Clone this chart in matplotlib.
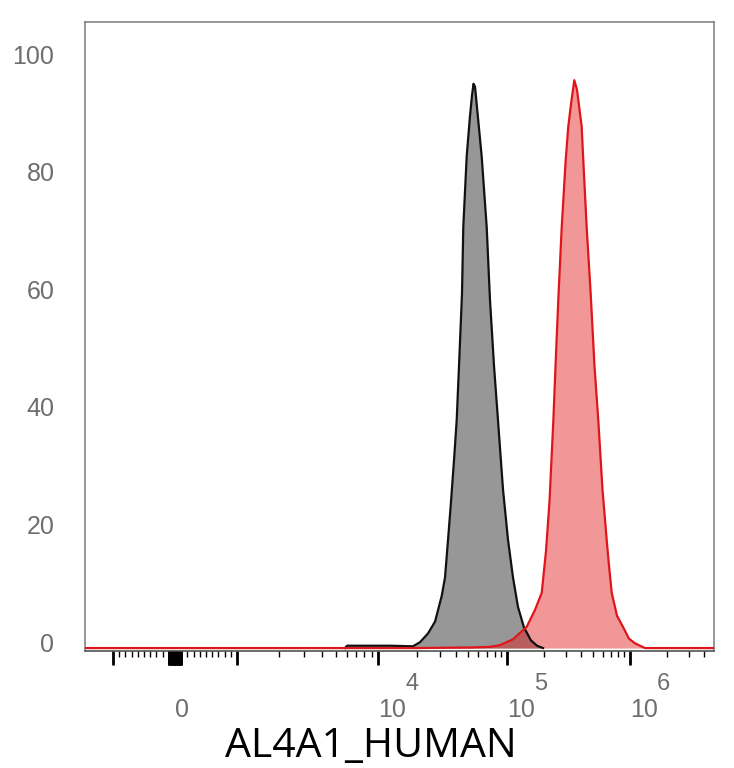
import numpy as np
import matplotlib
matplotlib.use("Agg")
import matplotlib.pyplot as plt
import matplotlib.transforms as mtransforms

# ------------------------------------------------------------------
# Histogram data (fluorescence value, % of max)
# ------------------------------------------------------------------
grey_x = [5.84e3, 6.03e3, 1.239e4, 1.866e4, 2.117e4, 2.443e4, 2.768e4, 3.12e4,
          3.306e4, 3.49e4, 3.683e4, 3.884e4, 4.074e4, 4.246e4, 4.478e4,
          4.582e4, 4.871e4, 5.164e4, 5.354e4, 5.50e4, 5.65e4, 5.85e4, 6.36e4,
          6.96e4, 7.38e4, 7.93e4, 8.51e4, 9.31e4, 1.019e5, 1.119e5, 1.228e5,
          1.374e5, 1.567e5, 1.753e5, 1.963e5]
grey_y = [0.0, 0.4, 0.4, 0.3, 1.0, 2.5, 4.5, 8.9,
          12.0, 18.4, 25.0, 32.0, 38.8, 48.0, 60.3,
          71.6, 83.7, 90.5, 94.0, 96.0, 95.5, 92.0, 83.7,
          71.6, 59.2, 48.0, 38.8, 27.0, 18.4, 12.0, 7.0,
          3.5, 1.3, 0.4, 0.0]

red_x = [-1.58e3, 1.936e4, 5.164e4, 7.38e4, 8.83e4, 1.119e5, 1.445e5, 1.69e5,
         1.916e5, 2.075e5, 2.217e5, 2.382e5, 2.503e5, 2.612e5, 2.785e5,
         3.001e5, 3.149e5, 3.313e5, 3.524e5, 3.707e5, 4.047e5, 4.17e5,
         4.443e5, 4.79e5, 5.143e5, 5.522e5, 5.973e5, 6.465e5, 6.75e5, 7.10e5,
         7.84e5, 8.77e5, 9.81e5, 1.098e6, 1.324e6, 4.82e6]
red_y = [0.0, 0.0, 0.1, 0.2, 0.5, 1.5, 3.6, 6.5,
         9.4, 16.5, 25.0, 38.8, 50.0, 59.2, 71.6,
         83.0, 88.7, 92.5, 96.6, 95.0, 88.7, 83.0,
         71.6, 60.3, 48.0, 38.8, 27.0, 18.4, 14.0, 9.4,
         5.5, 3.6, 1.6, 0.8, 0.0, 0.0]

y_ticks = [0, 20, 40, 60, 80, 100]
x_labelled = {0: "0", 1e4: "10", 1e5: "10", 1e6: "10"}
x_exponents = {1e4: "4", 1e5: "5", 1e6: "6"}
x_label = "AL4A1_HUMAN"

# ------------------------------------------------------------------
# biexponential-like display scale (linear near 0, log above 10^3)
# ------------------------------------------------------------------
DEC = np.array([3.0, 4.0, 5.0, 6.0, 7.0, 8.0])
POS = np.array([62.0, 203.0, 332.0, 455.0, 578.0, 701.0])
LIN = 62.0 / 1e3


def forward(v):
    v = np.asarray(v, dtype=float)
    a = np.abs(v)
    logpart = np.interp(np.log10(np.maximum(a, 1e3)), DEC, POS)
    return np.sign(v) * np.where(a <= 1e3, a * LIN, logpart)


def inverse(u):
    u = np.asarray(u, dtype=float)
    b = np.abs(u)
    logpart = 10 ** np.interp(np.maximum(b, 62.0), POS, DEC)
    return np.sign(u) * np.where(b <= 62.0, b / LIN, logpart)


# major ticks: +-10^3, the dense block around zero, and the decades
major = [-1e3] + [-k * 10 for k in range(10, 0, -1)] + [0] \
    + [k * 10 for k in range(1, 11)] + [1e3, 1e4, 1e5, 1e6]
major_labels = [x_labelled.get(m, "") for m in major]

minor = []
for k in range(2, 10):
    minor += [k * 100, -k * 100]
for dec in [1e3, 1e4, 1e5]:
    minor += [k * dec for k in range(2, 10)]
minor += [2e6, 3e6, 4e6]

tick_font = "Liberation Sans"
grey_txt = "#6e6e6e"

fig = plt.figure(figsize=(7.34, 7.68), dpi=100)
ax = fig.add_axes([85 / 734, 117 / 768, 629 / 734, 629 / 768])
ax.set_xscale("function", functions=(forward, inverse))

ax.fill_between(grey_x, grey_y, 0, color="#979797", lw=0, zorder=2)
ax.fill_between(red_x, red_y, 0, color="#e3191c", alpha=0.45, lw=0, zorder=3)
ax.plot(grey_x, grey_y, color="#111111", lw=1.6, zorder=4)
ax.plot(red_x, red_y, color="#e0151a", lw=1.6, zorder=5)

ax.set_xlim(-1581, 4.82e6)
ax.set_ylim(-0.5, 106.5)

ax.set_xticks(major)
ax.set_xticklabels(major_labels, fontfamily=tick_font, fontsize=18,
                   color=grey_txt, ha="left")
ax.set_xticks(minor, minor=True)
ax.tick_params(axis="x", which="major", direction="out", length=10, width=2.0,
               color="black", pad=24)
ax.tick_params(axis="x", which="minor", direction="out", length=4.5, width=1.0,
               color="black")

for xv, ex in x_exponents.items():
    ax.annotate(ex, xy=(xv, 0), xycoords=("data", "axes fraction"),
                xytext=(27, -22), textcoords="offset pixels",
                ha="left", va="top", fontfamily=tick_font, fontsize=17,
                color=grey_txt)

ax.set_yticks(y_ticks)
ax.set_yticklabels([str(t) for t in y_ticks], fontfamily=tick_font,
                   fontsize=18, color=grey_txt)
ax.tick_params(axis="y", length=0, pad=22)
shift = mtransforms.ScaledTranslation(0, 6 / 100, fig.dpi_scale_trans)
for lab in ax.get_yticklabels():
    lab.set_transform(lab.get_transform() + shift)

for side in ["left", "top", "right"]:
    ax.spines[side].set_color("#7a7a7a")
    ax.spines[side].set_linewidth(1.1)
ax.spines["bottom"].set_color("#444444")
ax.spines["bottom"].set_linewidth(1.1)

ax.set_xlabel(x_label, fontfamily="Open Sans", fontsize=29.5, color="black")
ax.xaxis.set_label_coords(0.4547, -0.1685)
ax.xaxis.label.set_va("baseline")

fig.savefig("out.png", dpi=100)
